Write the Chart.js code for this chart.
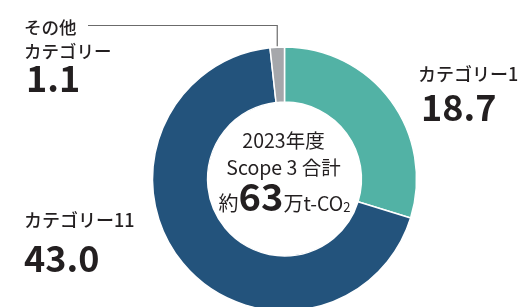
<!DOCTYPE html>
<html>
<head>
<meta charset="utf-8">
<script src="https://cdn.jsdelivr.net/npm/chart.js@4"></script>
<style>
  html, body { margin: 0; padding: 0; background: #fff; overflow: hidden; }
  #wrap { width: 531px; height: 360px; position: relative; }
</style>
</head>
<body>
<div id="wrap"><canvas id="scope3"></canvas></div>
<script>
const categories = ['カテゴリー1', 'カテゴリー11', 'その他カテゴリー'];
const values = [18.7, 43.0, 1.1];
const colors = ['#52b2a5', '#23537c', '#a5a7ab'];
const total = 63;

const FONT = '"Noto Sans CJK JP", "Noto Sans", sans-serif';
const INK = '#231f20';

// labels, leader line and centre text
const labelsPlugin = {
    id: 'labels',
    afterDraw(chart) {
        const ctx = chart.ctx;
        const arcs = chart.getDatasetMeta(0).data;
        ctx.save();
        ctx.fillStyle = INK;
        ctx.textAlign = 'left';
        ctx.textBaseline = 'alphabetic';

        // category 1 (right)
        ctx.font = '500 18px ' + FONT;
        ctx.fillText(categories[0], 418, 81);
        ctx.font = 'bold 36px ' + FONT;
        ctx.fillText(values[0].toFixed(1), 421, 121);

        // category 11 (left)
        ctx.font = '500 18px ' + FONT;
        ctx.fillText(categories[1], 24, 227);
        ctx.font = 'bold 36px ' + FONT;
        ctx.fillText(values[1].toFixed(1), 24, 272);

        // other (top-left)
        ctx.font = '500 17.5px ' + FONT;
        ctx.fillText('その他', 24, 34);
        ctx.fillText('カテゴリー', 24, 58);
        ctx.font = 'bold 36px ' + FONT;
        ctx.fillText(values[2].toFixed(1), 26, 92);

        // leader line from the small slice
        const g = arcs[2].getProps(['x', 'y', 'startAngle', 'endAngle', 'outerRadius'], true);
        const mid = (g.startAngle + g.endAngle) / 2;
        const lx = g.x + Math.cos(mid) * g.outerRadius;
        const ly = g.y + Math.sin(mid) * g.outerRadius;
        ctx.strokeStyle = '#6b6b6b';
        ctx.lineWidth = 1.2;
        ctx.beginPath();
        ctx.moveTo(lx, ly - 1);
        ctx.lineTo(lx, 25.5);
        ctx.lineTo(88, 25.5);
        ctx.stroke();

        // centre text
        const cx = g.x, cy = g.y;
        ctx.textAlign = 'center';
        ctx.font = '19.5px ' + FONT;
        ctx.fillText('2023年度', cx - 1, cy - 31);
        ctx.fillText('Scope 3 合計', cx - 1, cy - 4);

        // 約63万t-CO2
        ctx.textAlign = 'left';
        const parts = [
            { t: '約', f: '20px ' + FONT, dy: 0 },
            { t: String(total), f: 'bold 38px ' + FONT, dy: 0 },
            { t: '万', f: '20px ' + FONT, dy: 0 },
            { t: 't-CO', f: '19.5px ' + FONT, dy: 0 },
            { t: '2', f: '13px ' + FONT, dy: 1 }
        ];
        let w = 0;
        parts.forEach(p => { ctx.font = p.f; p.w = ctx.measureText(p.t).width; w += p.w; });
        let x = cx - w / 2;
        const base = cy + 32;
        parts.forEach(p => {
            ctx.font = p.f;
            ctx.fillText(p.t, x, base + p.dy);
            x += p.w;
        });
        ctx.restore();
    }
};

new Chart(document.getElementById('scope3'), {
    type: 'doughnut',
    data: {
        labels: categories,
        datasets: [{
            data: values,
            backgroundColor: colors,
            borderColor: '#ffffff',
            borderWidth: 1.5
        }]
    },
    options: {
        responsive: true,
        maintainAspectRatio: false,
        animation: false,
        radius: 132,
        cutout: 87,
        layout: { padding: { left: 134.5, right: 96.5, top: 29, bottom: 31 } },
        plugins: {
            legend: { display: false },
            tooltip: { enabled: false }
        }
    },
    plugins: [labelsPlugin]
});
</script>
</body>
</html>
